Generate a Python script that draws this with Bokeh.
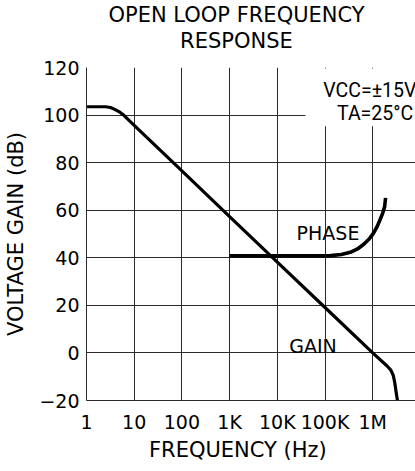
from bokeh.plotting import figure
from bokeh.models import Range1d, FixedTicker, Label, BoxAnnotation, Title
from bokeh.embed import file_html
from bokeh.resources import INLINE

# ---- data ----
gain_freq = [1, 2.5, 3.2, 4, 5, 6, 10, 100, 1e3, 1e4, 1e5, 1e6, 2.0e6, 2.4e6, 2.7e6, 2.9e6, 3.1e6, 3.3e6]
gain_db = [103.5, 103.5, 103.2, 102.3, 101.2, 100, 95.7, 76.5, 57.3, 38.2, 19.1, 0, -5.5, -7.2, -9.5, -12.5, -16.5, -20]

phase_freq = [1e3, 1e4, 1e5, 1.3e5, 2.2e5, 3.4e5, 4.8e5, 6.5e5, 8.5e5, 1.05e6, 1.25e6, 1.44e6, 1.62e6, 1.78e6, 1.86e6]
phase_val = [40.8, 40.8, 40.8, 40.9, 41.4, 42.3, 43.7, 45.7, 48.0, 50.5, 53.3, 56.2, 58.8, 61.5, 65.2]

x_ticks = [1, 10, 100, 1000, 10000, 100000, 1000000]
x_tick_labels = ["1", "10", "100", "1K", "10K", "100K", "1M"]
y_ticks = [-20, 0, 20, 40, 60, 80, 100, 120]
y_tick_labels = ["\u221220", "0", "20", "40", "60", "80", "100", "120"]

FONT = "DejaVu Sans"
GRID = "#2a2a2a"

p = figure(width=415, height=471, x_axis_type="log", title=None,
           x_range=Range1d(1, 10 ** 6.897), y_range=Range1d(-20, 120),
           output_backend="svg", toolbar_location=None,
           min_border_left=86, min_border_right=0, min_border_top=66, min_border_bottom=71)
p.outline_line_color = None
p.background_fill_color = "white"

xt = FixedTicker(ticks=x_ticks, minor_ticks=[])
yt = FixedTicker(ticks=y_ticks, minor_ticks=[])
p.xaxis.ticker = xt
p.yaxis.ticker = yt
p.xgrid.ticker = xt
p.ygrid.ticker = yt
for g in (p.xgrid, p.ygrid):
    g.grid_line_color = GRID
    g.grid_line_width = 1
    g.grid_line_alpha = 1

p.xaxis.major_label_overrides = {t: s for t, s in zip(x_ticks, x_tick_labels)}
p.yaxis.major_label_overrides = {t: s for t, s in zip(y_ticks, y_tick_labels)}
for ax in (p.xaxis, p.yaxis):
    ax.major_tick_line_color = None
    ax.minor_tick_line_color = None
    ax.major_tick_in = 0
    ax.major_tick_out = 0
    ax.axis_line_color = GRID
    ax.major_label_text_font = FONT
    ax.major_label_text_font_size = "19px"
    ax.major_label_text_color = "black"
p.xaxis.major_label_standoff = 10
p.yaxis.major_label_standoff = 7

p.yaxis.axis_label = "VOLTAGE GAIN (dB)"
p.yaxis.axis_label_text_font = FONT
p.yaxis.axis_label_text_font_size = "21px"
p.yaxis.axis_label_text_font_style = "normal"
p.yaxis.axis_label_text_color = "black"
p.yaxis.axis_label_standoff = 8

# titles (inner one first); a blank spacer keeps the gap above the frame
def title(text, side, offset, size="21px", standoff=0):
    p.add_layout(Title(text=text, align="left", offset=offset, standoff=standoff,
                       text_font=FONT, text_font_size=size, text_font_style="normal",
                       text_color="black"), side)

title(" ", "above", 0, size="11px")
title("RESPONSE", "above", 93.6)
title("OPEN LOOP FREQUENCY", "above", 22)
title("FREQUENCY (Hz)", "below", 62.5)

# curves
p.line(gain_freq, gain_db, line_color="black", line_width=3.2, line_join="round")
p.line(phase_freq, phase_val, line_color="black", line_width=3.6, line_join="round")

# white box behind the conditions text
p.add_layout(BoxAnnotation(left=10 ** 4.59, right=1e8, top=119.55, bottom=95.3,
                           fill_color="white", fill_alpha=1, line_color=None))

def lab(text, x, y, size="19px", font=FONT):
    p.add_layout(Label(x=x, y=y, text=text, text_font=font, text_font_size=size,
                       text_align="center", text_baseline="alphabetic",
                       text_color="black"))

lab("VCC=\u00b115V", 10 ** 5.94, 110.2, size="19.5px", font="Roboto")
lab("TA=25\u00b0C", 10 ** 6.05, 100.85, size="19.5px", font="Roboto")
lab("PHASE", 10 ** 5.063, 50.55, size="19px")
lab("GAIN", 10 ** 4.748, 2.77, size="19px")

open("out.html", "w").write(file_html(p, INLINE))
